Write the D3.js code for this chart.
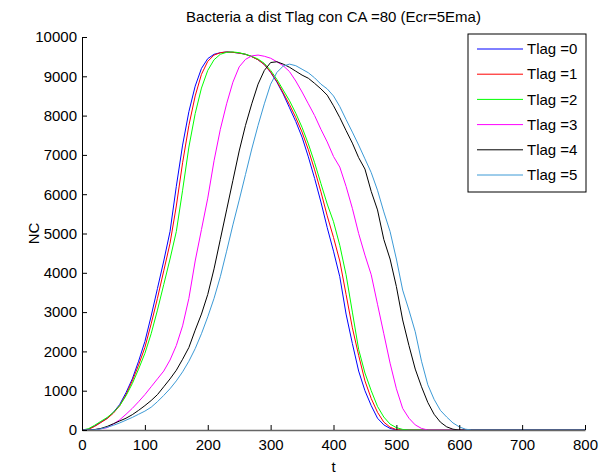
<!DOCTYPE html>
<html>
<head>
<meta charset="utf-8">
<script src="https://cdn.jsdelivr.net/npm/d3@7"></script>
<style>
  body { margin: 0; background: #fff; }
  svg text { font-family: Arial, "Liberation Sans", sans-serif; fill: #000; }
</style>
</head>
<body>
<div id="chart"></div>
<script>
// time points and NC values, one list per Tlag
const tlag0 = [[0,0],[10,20],[20,100],[30,200],[40,300],[50,450],[60,650],[70,950],[80,1300],[90,1750],[100,2250],[110,2900],[120,3600],[130,4300],[140,5050],[150,6200],[160,7250],[170,8100],[180,8750],[190,9200],[200,9450],[210,9560],[220,9600],[230,9620],[240,9610],[250,9590],[260,9560],[270,9500],[280,9420],[290,9300],[300,9100],[310,8850],[320,8550],[330,8200],[340,7850],[350,7450],[360,6950],[370,6400],[380,5800],[390,5150],[400,4550],[410,3900],[420,2950],[430,2200],[440,1500],[450,1000],[460,620],[470,300],[480,130],[490,40],[500,0],[800,0]]
const tlag1 = [[0,0],[10,15],[20,90],[30,190],[40,290],[50,430],[60,620],[70,900],[80,1250],[90,1650],[100,2100],[110,2700],[120,3350],[130,4050],[140,4750],[150,5700],[160,6800],[170,7750],[180,8500],[190,9050],[200,9380],[210,9540],[220,9600],[230,9620],[240,9610],[250,9590],[260,9560],[270,9500],[280,9420],[290,9300],[300,9110],[310,8870],[320,8580],[330,8280],[340,7950],[350,7580],[360,7130],[370,6620],[380,6060],[390,5450],[400,4900],[410,4300],[420,3450],[430,2600],[440,1900],[450,1250],[460,800],[470,450],[480,200],[490,70],[500,10],[510,0],[800,0]]
const tlag2 = [[0,0],[10,30],[20,120],[30,220],[40,320],[50,450],[60,620],[70,870],[80,1180],[90,1550],[100,1950],[110,2450],[120,3050],[130,3700],[140,4350],[150,5050],[160,6100],[170,7200],[180,8050],[190,8700],[200,9150],[210,9420],[220,9560],[230,9610],[240,9620],[250,9600],[260,9560],[270,9510],[280,9440],[290,9330],[300,9150],[310,8920],[320,8650],[330,8380],[340,8060],[350,7700],[360,7280],[370,6800],[380,6270],[390,5750],[400,5300],[410,4700],[420,3950],[430,3000],[440,2050],[450,1450],[460,1000],[470,600],[480,330],[490,150],[500,60],[510,15],[520,0],[800,0]]
const tlag3 = [[0,0],[10,0],[20,10],[30,30],[40,60],[50,150],[60,260],[70,400],[80,550],[90,720],[100,900],[110,1100],[120,1300],[130,1500],[140,1780],[150,2150],[160,2650],[170,3350],[180,4300],[190,5100],[200,5900],[210,6850],[220,7650],[230,8300],[240,8850],[250,9240],[260,9430],[270,9520],[280,9540],[290,9510],[300,9460],[310,9370],[320,9270],[330,9120],[340,8880],[350,8600],[360,8300],[370,8000],[380,7650],[390,7330],[400,6960],[410,6690],[420,6200],[430,5640],[440,5000],[450,4450],[460,3950],[470,3200],[480,2450],[490,1700],[500,1050],[510,550],[520,300],[530,130],[540,40],[550,0],[800,0]]
const tlag4 = [[0,0],[10,0],[20,10],[30,40],[40,90],[50,160],[60,230],[70,300],[80,390],[90,500],[100,620],[110,750],[120,900],[130,1100],[140,1300],[150,1520],[160,1800],[170,2100],[180,2540],[190,2950],[200,3450],[210,4100],[220,4850],[230,5600],[240,6350],[250,7100],[260,7750],[270,8300],[280,8800],[290,9150],[300,9350],[310,9370],[320,9310],[330,9230],[340,9130],[350,9030],[360,8950],[370,8820],[380,8680],[390,8520],[400,8250],[410,7950],[420,7620],[430,7300],[440,6930],[450,6640],[460,6070],[470,5600],[480,4850],[490,4350],[500,3650],[510,2800],[520,2150],[530,1550],[540,1100],[550,700],[560,400],[570,200],[580,80],[590,20],[600,0],[800,0]]
const tlag5 = [[0,0],[10,0],[20,5],[30,30],[40,70],[50,120],[60,180],[70,250],[80,320],[90,400],[100,480],[110,580],[120,720],[130,880],[140,1050],[150,1250],[160,1480],[170,1750],[180,2070],[190,2450],[200,2880],[210,3350],[220,3900],[230,4550],[240,5220],[250,5850],[260,6500],[270,7150],[280,7750],[290,8300],[300,8800],[310,9100],[320,9260],[330,9310],[340,9270],[350,9180],[360,9090],[370,8960],[380,8800],[390,8680],[400,8500],[410,8230],[420,7900],[430,7580],[440,7250],[450,6900],[460,6550],[470,6100],[480,5550],[490,5050],[500,4350],[510,3560],[520,3050],[530,2500],[540,1750],[550,1150],[560,780],[570,500],[580,330],[590,180],[600,80],[610,20],[620,0],[800,0]]

const seriesNames = ["Tlag =0", "Tlag =1", "Tlag =2", "Tlag =3", "Tlag =4", "Tlag =5"]
const seriesColors = ["#0000ff", "#ff0000", "#00ff00", "#ff00ff", "#000000", "#3c9ad6"]
const xTicks = [0, 100, 200, 300, 400, 500, 600, 700, 800]
const yTicks = [0, 1000, 2000, 3000, 4000, 5000, 6000, 7000, 8000, 9000, 10000]

const allSeries = [tlag0, tlag1, tlag2, tlag3, tlag4, tlag5]

const width = 599, height = 476
const margin = {top: 37, right: 14, bottom: 46, left: 82}

const svg = d3.select("#chart").append("svg")
    .attr("width", width)
    .attr("height", height)

const x = d3.scaleLinear().domain([0, 800]).range([margin.left, width - margin.right])
const y = d3.scaleLinear().domain([0, 10000]).range([height - margin.bottom, margin.top])

// curves
const line = d3.line()
    .x(d => x(d[0]))
    .y(d => y(d[1]))

svg.selectAll(".series")
    .data(allSeries)
    .enter()
    .append("path")
    .attr("class", "series")
    .attr("d", line)
    .attr("fill", "none")
    .attr("stroke", (d, i) => seriesColors[i])
    .attr("stroke-width", 1)

// axes, ticks pointing inward like matlab
const xAxis = svg.append("g")
    .attr("transform", "translate(0," + y(0) + ")")
    .call(d3.axisBottom(x).tickValues(xTicks).tickFormat(d3.format("d")).tickSizeInner(-5).tickSizeOuter(0).tickPadding(9))
xAxis.select(".domain").attr("stroke", "#666").attr("stroke-width", 1.5)

const yAxis = svg.append("g")
    .attr("transform", "translate(" + x(0) + ",0)")
    .call(d3.axisLeft(y).tickValues(yTicks).tickFormat(d3.format("d")).tickSizeInner(-5).tickSizeOuter(0).tickPadding(5))

svg.selectAll(".tick text").style("font-size", "15px")
xAxis.selectAll(".tick text").attr("dy", "0.71em")

// title and labels
svg.append("text")
    .attr("x", (x(0) + x(800)) / 2)
    .attr("y", 22)
    .attr("text-anchor", "middle")
    .style("font-size", "15px")
    .text("Bacteria a dist Tlag con CA =80 (Ecr=5Ema)")

svg.append("text")
    .attr("x", (x(0) + x(800)) / 2)
    .attr("y", 472)
    .attr("text-anchor", "middle")
    .style("font-size", "15px")
    .text("t")

svg.append("text")
    .attr("transform", "translate(39," + y(5000) + ") rotate(-90)")
    .attr("text-anchor", "middle")
    .style("font-size", "15px")
    .text("NC")

// legend box
const legend = svg.append("g").attr("transform", "translate(468,34)")
legend.append("rect")
    .attr("width", 118)
    .attr("height", 158)
    .attr("fill", "#fff")
    .attr("stroke", "#000")

const rows = legend.selectAll(".row")
    .data(seriesNames)
    .enter()
    .append("g")
    .attr("transform", (d, i) => "translate(0," + (15 + i * 25.2) + ")")

rows.append("line")
    .attr("x1", 9).attr("x2", 55)
    .attr("stroke", (d, i) => seriesColors[i])

rows.append("text")
    .attr("x", 59)
    .attr("dy", "0.35em")
    .style("font-size", "15px")
    .text(d => d)
</script>
</body>
</html>
